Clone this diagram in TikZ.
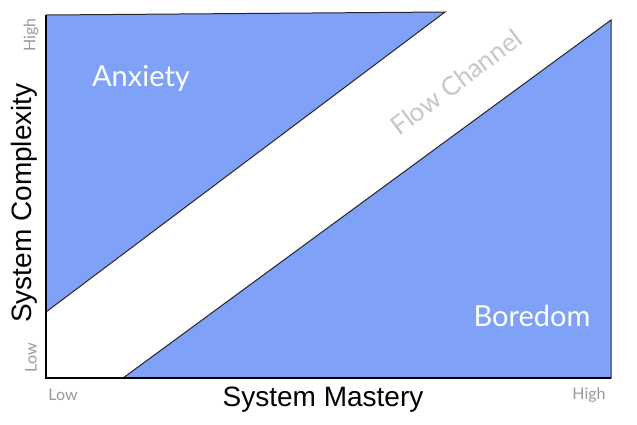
\documentclass[tikz,border=0pt]{standalone}
\usepackage{fontspec}
\setmainfont{Liberation Sans}
\newfontfamily\latof{Lato}
\definecolor{fill}{HTML}{7FA1F7}
\definecolor{lbl}{HTML}{9A9A9A}
\begin{document}
\begin{tikzpicture}[x=1pt,y=-1pt,
  zone/.style={fill=fill,draw=black!85,line width=1pt,line join=miter},
  big/.style={font=\fontsize{28}{32}\selectfont,inner sep=0pt},
  tick/.style={text=lbl,font=\latof\fontsize{16}{18}\selectfont,inner sep=0pt}]
\useasboundingbox[fill=white] (0,0) rectangle (637,424);
\draw[zone] (46,15) -- (445,12) -- (46,312) -- cycle;
\draw[zone] (123,378) -- (611,20) -- (611,378) -- cycle;
\draw[line width=1.5pt] (46,15) -- (46,378) -- (611,378);
\node[big,text=white,font=\latof\fontsize{29}{32}\selectfont] (anx) at (141,78) {Anxiety};
\node[big,text=white,font=\latof\fontsize{29}{32}\selectfont] (bor) at (532,316) {Boredom};
\node[big,text=black!22,rotate=37,font=\latof\fontsize{26}{30}\selectfont] (flow) at (456,82) {Flow Channel};
\node[big] (xl) at (323,400) {System Mastery};
\node[big,rotate=90] (yl) at (24,203) {System Complexity};
\node[tick] (xlo) at (63,395) {Low};
\node[tick] (xhi) at (589,395) {High};
\node[tick,rotate=90] (ylo) at (31,358) {Low};
\node[tick,rotate=90] (yhi) at (31,35) {High};
\end{tikzpicture}
\end{document}
